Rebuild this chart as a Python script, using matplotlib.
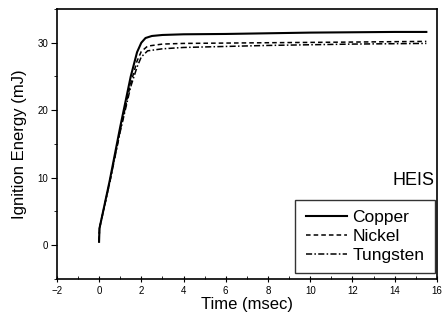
import matplotlib
matplotlib.use("Agg")
import matplotlib.pyplot as plt
from matplotlib.ticker import MultipleLocator

plt.rcParams['font.family'] = ['Liberation Sans', 'DejaVu Sans']

copper_t = [0.0, 0.02, 0.5, 1.0, 1.5, 1.8, 2.0, 2.2, 2.5, 3.0, 4.0, 6.0, 8.0, 10.0, 12.0, 14.0, 15.5]
copper_e = [0.5, 2.5, 9.5, 17.5, 25.0, 28.6, 30.0, 30.7, 31.0, 31.15, 31.25, 31.3, 31.4, 31.5, 31.55, 31.6, 31.6]

nickel_t = [0.0, 0.02, 0.5, 1.0, 1.5, 1.8, 2.0, 2.3, 3.0, 4.0, 8.0, 12.0, 15.5]
nickel_e = [0.5, 2.5, 9.3, 17.0, 24.0, 27.3, 28.7, 29.5, 29.8, 29.9, 30.0, 30.1, 30.2]

tungsten_t = [0.0, 0.02, 0.5, 1.0, 1.5, 1.8, 2.0, 2.3, 3.0, 4.0, 8.0, 12.0, 15.5]
tungsten_e = [0.5, 2.5, 9.2, 16.8, 23.5, 26.4, 27.9, 28.8, 29.1, 29.3, 29.6, 29.8, 29.9]

series_names = ["Copper", "Nickel", "Tungsten"]

fig = plt.figure(figsize=(4.44, 3.21), dpi=100)
ax = fig.add_axes([0.128, 0.131, 0.856, 0.841])

ax.plot(copper_t, copper_e, color='black', lw=1.5, ls='-', label=series_names[0])
ax.plot(nickel_t, nickel_e, color='black', lw=1.1, ls=(0, (3, 2)), label=series_names[1])
ax.plot(tungsten_t, tungsten_e, color='black', lw=1.1, ls=(0, (4, 1.5, 1, 1.5)), label=series_names[2])

ax.set_xlim(-2, 16)
ax.set_ylim(-5, 35)
ax.xaxis.set_major_locator(MultipleLocator(2))
ax.xaxis.set_minor_locator(MultipleLocator(1))
ax.yaxis.set_major_locator(MultipleLocator(10))
ax.yaxis.set_minor_locator(MultipleLocator(5))
ax.tick_params(axis='x', which='major', direction='inout', length=4, labelsize=7, pad=3)
ax.tick_params(axis='x', which='minor', direction='in', length=2)
ax.tick_params(axis='y', which='major', direction='out', length=4, labelsize=7, pad=2)
ax.tick_params(axis='y', which='minor', direction='out', length=2)
for s in ax.spines.values():
    s.set_linewidth(1.2)

ax.set_xlabel("Time (msec)", fontsize=12, labelpad=1)
ax.set_ylabel("Ignition Energy (mJ)", fontsize=12, labelpad=8)

ax.text(0.995, 0.365, "HEIS", transform=ax.transAxes, ha='right', va='center', fontsize=13)
leg = ax.legend(loc='lower right', bbox_to_anchor=(0.995, 0.022), fontsize=12.5,
                frameon=True, fancybox=False, edgecolor='black',
                handlelength=2.4, handletextpad=0.3,
                borderpad=0.6, labelspacing=0.2, borderaxespad=0)
leg.get_frame().set_linewidth(1.0)

fig.savefig("out.png", dpi=100)
